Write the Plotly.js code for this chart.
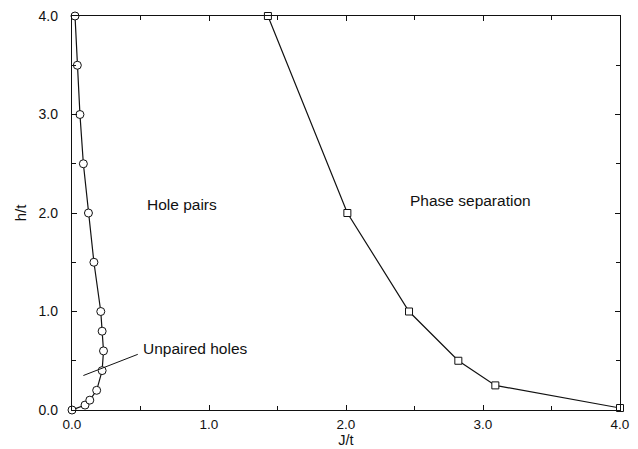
<!DOCTYPE html>
<html>
<head>
<meta charset="utf-8">
<script src="https://cdn.plot.ly/plotly-3.0.1.min.js"></script>
<style>html,body{margin:0;padding:0;background:#fff;}#chart{width:638px;height:449px;}</style>
</head>
<body>
<div id="chart"></div>
<script>
// Hole-pair boundary (circles)
const pairJ = [0.0, 0.095, 0.13, 0.18, 0.22, 0.23, 0.22, 0.21, 0.16, 0.12, 0.083, 0.058, 0.039, 0.022];
const pairH = [0.0, 0.05, 0.1, 0.2, 0.4, 0.6, 0.8, 1.0, 1.5, 2.0, 2.5, 3.0, 3.5, 4.0];
// Phase separation boundary (squares)
const sepJ = [1.43, 2.01, 2.46, 2.82, 3.09, 4.0];
const sepH = [4.0, 2.0, 1.0, 0.5, 0.25, 0.02];
// Ticks
const tickVals = [0, 1, 2, 3, 4];
const tickText = ['0.0', '1.0', '2.0', '3.0', '4.0'];
// Annotation pointer for "Unpaired holes"
const pointerJ = [0.083, 0.48];
const pointerH = [0.35, 0.565];

const fam = 'Liberation Sans, Arial, sans-serif';
const font = {family: fam, size: 14, color: '#111'};
const labelFont = {family: fam, size: 15.5, color: '#111'};

const traces = [
  {x: pairJ, y: pairH, mode: 'lines+markers', cliponaxis: false,
   line: {color: '#111', width: 1.2},
   marker: {symbol: 'circle', size: 8, color: '#fff', line: {color: '#111', width: 1}}},
  {x: sepJ, y: sepH, mode: 'lines+markers', cliponaxis: false,
   line: {color: '#111', width: 1.2},
   marker: {symbol: 'square', size: 7, color: '#fff', line: {color: '#111', width: 1}}},
  {x: pointerJ, y: pointerH, mode: 'lines', line: {color: '#111', width: 1}, hoverinfo: 'skip'}
];

const axisBase = {
  range: [0, 4], showline: true, linecolor: '#111', linewidth: 1.2, mirror: 'allticks',
  ticks: 'inside', ticklen: 5, tickcolor: '#111', tickvals: tickVals, ticktext: tickText,
  showgrid: false, zeroline: false, tickfont: font,
  minor: {dtick: 0.5, ticks: 'inside', ticklen: 4, tickcolor: '#111', showgrid: false}
};

const layout = {
  width: 638, height: 449,
  margin: {l: 72, r: 18, t: 16, b: 39},
  paper_bgcolor: '#fff', plot_bgcolor: '#fff',
  showlegend: false, font: font,
  xaxis: Object.assign({}, axisBase, {ticklabelstandoff: 2,
    tickfont: {family: fam, size: 13.5, color: '#111'},
    title: {text: 'J/t', font: {family: fam, size: 14.5, color: '#111'}, standoff: 3}}),
  yaxis: Object.assign({}, axisBase, {ticklabelstandoff: 10,
    title: {text: 'h/t', font: {family: fam, size: 15, color: '#111'}, standoff: 8}}),
  annotations: [
    {x: 0.53, y: 2.09, text: 'Hole pairs', showarrow: false, xanchor: 'left', font: labelFont},
    {x: 2.45, y: 2.13, text: 'Phase separation', showarrow: false, xanchor: 'left', font: labelFont},
    {x: 0.50, y: 0.62, text: 'Unpaired holes', showarrow: false, xanchor: 'left', font: labelFont}
  ]
};

Plotly.newPlot('chart', traces, layout, {displayModeBar: false, staticPlot: true});
</script>
</body>
</html>
